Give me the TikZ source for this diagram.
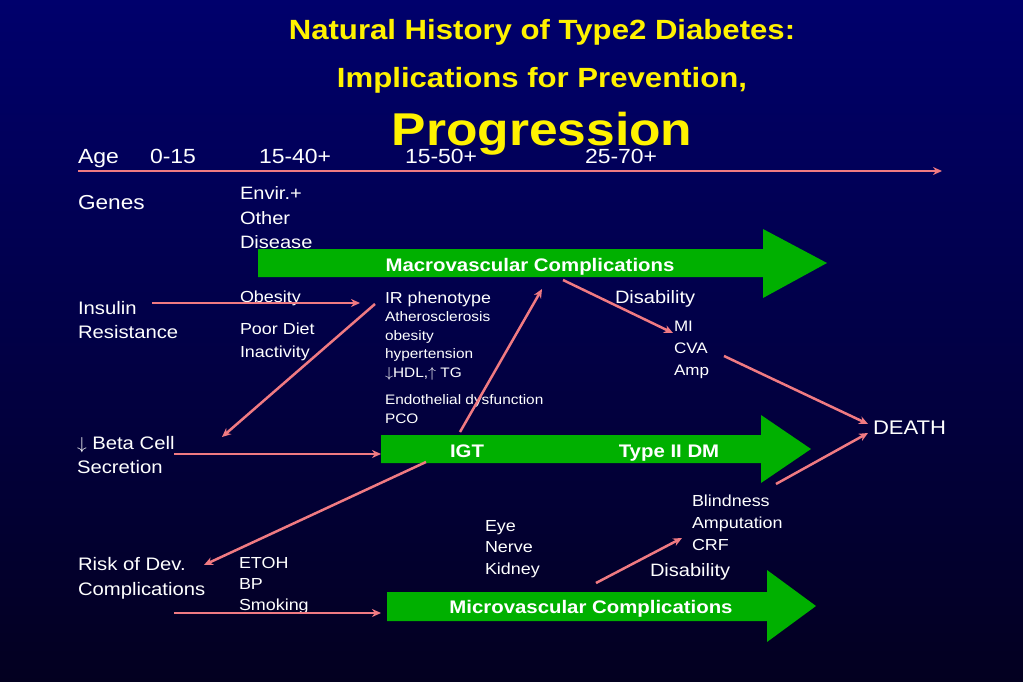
\documentclass[tikz,border=0pt]{standalone}
\usepackage{fontspec}
\setmainfont{Liberation Sans}
\usetikzlibrary{
    arrows.meta,
    positioning
}
\definecolor{slide top}{RGB}{0,0,108}
\definecolor{slide bottom}{RGB}{3,0,32}
\definecolor{link pink}{RGB}{240,122,130}
\definecolor{bar green}{RGB}{0,176,0}
\tikzset{
    % Colors
    link color/.style={color=link pink},
    bar color/.style={fill=bar green},
    title color/.style={text=yellow},
    %
    % Text
    fsize/.style 2 args={font=\fontsize{#1}{#2}\selectfont},
    slide text/.style={text=white,inner sep=0pt,outer sep=0pt,xscale=1.12,align=left,anchor=north west},
    title text/.style={title color,inner sep=0pt,outer sep=0pt,xscale=1.12,anchor=base,font=\bfseries\fontsize{#1}{#1}\selectfont},
    bar text/.style={text=white,inner sep=0pt,outer sep=0pt,xscale=1.12,anchor=base,font=\bfseries\fontsize{18.2}{20}\selectfont},
    %
    % Arrows
    arrow tip/.tip={Stealth[length=9pt,width=8pt]},
    arr/.style={->,>={arrow tip},link color,line width=2.5pt}
}

\begin{document}
\begin{tikzpicture}
        [
            x=1pt,y=-1pt,
            age text/.style={slide text,anchor=base west,fsize={20.5}{24}}
        ]
        \useasboundingbox (0,0) rectangle (1023,682);
        \shade[top color=slide top,bottom color=slide bottom] (0,0) rectangle (1023,682);
        % Title
        \node[title text=27.8] (title top) at (542,39.5) {Natural History of Type2 Diabetes:};
        \node[title text=27.8] (title mid) at (542,87.5) {Implications for Prevention,};
        \node[title text=46] (title prog) at (542,146) {Progression};
        % Age axis
        \node[age text] (age) at (78,164) {Age};
        \node[age text] (age a) at (150,164) {0-15};
        \node[age text] (age b) at (259,164) {15-40+};
        \node[age text] (age c) at (405,164) {15-50+};
        \node[age text] (age d) at (585,164) {25-70+};
        \coordinate (time start) at (78,171);
        \coordinate (time end) at (942,171);
        \draw[arr] (time start) -- (time end);
        % Green bars
        \fill[bar color] (258,249) -- (763,249) -- (763,229) -- (827,263) -- (763,298) -- (763,277) -- (258,277) -- cycle;
        \fill[bar color] (381,435) -- (761,435) -- (761,415) -- (811,449) -- (761,483) -- (761,463) -- (381,463) -- cycle;
        \fill[bar color] (387,592) -- (767,592) -- (767,570) -- (816,606) -- (767,642) -- (767,621) -- (387,621) -- cycle;
        \node[bar text] (macro label) at (530,271.5) {Macrovascular Complications};
        \node[bar text] (igt) at (467,457) {IGT};
        \node[bar text] (type2) at (669,457) {Type II DM};
        \node[bar text] (micro label) at (591,613) {Microvascular Complications};
        % Left column
        \node[slide text,fsize={20.2}{24}] (genes) at (78,195) {Genes};
        \node[slide text,fsize={18.1}{24}] (insulin) at (78,301) {Insulin\\Resistance};
        \node[slide text,fsize={18.1}{24}] (beta) at (77,436) {$\downarrow$ Beta Cell\\Secretion};
        \node[slide text,fsize={18.1}{25}] (risk) at (78,557) {Risk of Dev.\\Complications};
        % Causes
        \node[slide text,fsize={17.9}{24.5}] (envir) at (240,187) {Envir.+\\Other\\Disease};
        \node[slide text,fsize={16}{23}] (obesity) at (240,291) {Obesity};
        \node[slide text,fsize={16}{23}] (diet) at (240,323) {Poor Diet\\Inactivity};
        \node[slide text,fsize={16}{21}] (etoh) at (239,557) {ETOH\\BP\\Smoking};
        % Phenotype
        \node[slide text,fsize={15.9}{19}] (ir) at (385,292) {IR phenotype};
        \node[slide text,fsize={13.75}{18.5}] (ir list) at (385,312) {Atherosclerosis\\obesity\\hypertension\\$\downarrow$HDL,$\uparrow$ TG};
        \node[slide text,fsize={13.75}{19}] (endo) at (385,395) {Endothelial dysfunction\\PCO};
        % Outcomes
        \node[slide text,fsize={17.9}{22}] (disab top) at (615,291) {Disability};
        \node[slide text,fsize={15.2}{22}] (mi) at (674,321) {MI\\CVA\\Amp};
        \node[slide text,fsize={19.7}{22}] (death) at (873,421) {DEATH};
        \node[slide text,fsize={16}{21.5}] (eye) at (485,520) {Eye\\Nerve\\Kidney};
        \node[slide text,fsize={16}{22}] (blind) at (692,495) {Blindness\\Amputation\\CRF};
        \node[slide text,fsize={17.9}{22}] (disab low) at (650,564) {Disability};
        % Links
        \coordinate (ins out) at (152,303);
        \coordinate (ir in) at (360,303);
        \coordinate (ir out) at (375,304);
        \coordinate (beta in) at (222,437);
        \coordinate (igt up) at (460,432);
        \coordinate (macro in) at (542,289);
        \coordinate (macro out) at (563,280);
        \coordinate (mi in) at (673,333);
        \coordinate (cva out) at (724,356);
        \coordinate (death top) at (868,424);
        \coordinate (igt out) at (776,484);
        \coordinate (death low) at (868,433);
        \coordinate (beta out) at (174,454);
        \coordinate (igt in) at (381,454);
        \coordinate (igt down) at (426,462);
        \coordinate (risk in) at (204,565);
        \coordinate (micro out) at (596,583);
        \coordinate (blind in) at (682,538);
        \coordinate (risk out) at (174,613);
        \coordinate (micro in) at (381,613);
        \draw[arr] (ins out) -- (ir in);
        \draw[arr] (ir out) -- (beta in);
        \draw[arr] (igt up) -- (macro in);
        \draw[arr] (macro out) -- (mi in);
        \draw[arr] (cva out) -- (death top);
        \draw[arr] (igt out) -- (death low);
        \draw[arr] (beta out) -- (igt in);
        \draw[arr] (igt down) -- (risk in);
        \draw[arr] (micro out) -- (blind in);
        \draw[arr] (risk out) -- (micro in);
    \end{tikzpicture}
\end{document}
